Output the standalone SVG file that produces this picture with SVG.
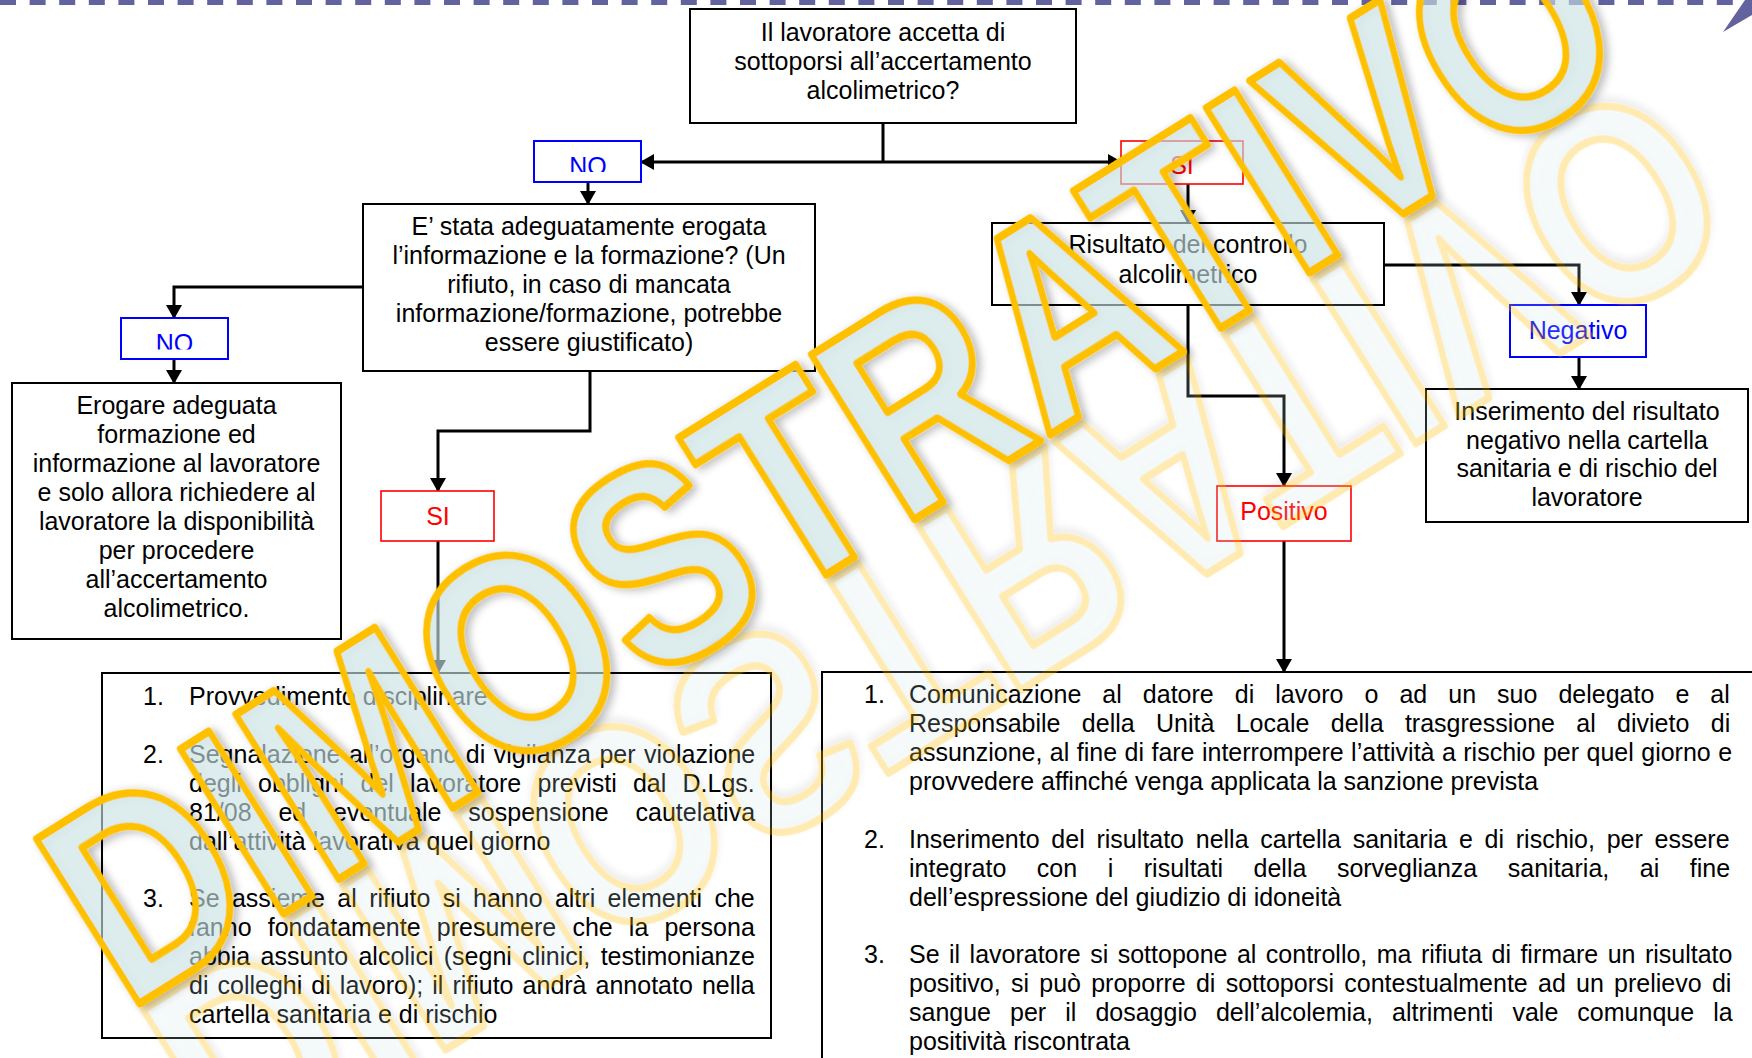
<svg xmlns="http://www.w3.org/2000/svg" xmlns:xlink="http://www.w3.org/1999/xlink" width="1752" height="1058" viewBox="0 0 1752 1058">
<defs>
<style>
.t{font-family:"Liberation Sans",Arial,sans-serif;font-size:25px;fill:#000}
.c{text-anchor:middle}
.box{fill:#fff;stroke:#000;stroke-width:2}
.blue{fill:#fff;stroke:#0000ff;stroke-width:2}
.red{fill:#fff;stroke:#ff0000;stroke-width:1.6}
.bt{fill:#0000ff}
.rt{fill:#ff0000}
.con{fill:none;stroke:#000;stroke-width:3}
.arr{marker-end:url(#ah)}
.wm{font-family:"Liberation Sans",Arial,sans-serif;font-weight:bold;font-size:235px;fill:#d6eef0;fill-opacity:0.55;stroke:#ffc000;stroke-width:6.5;stroke-linejoin:round}
</style>
<marker id="ah" viewBox="0 0 14 16" refX="13" refY="8" markerWidth="14" markerHeight="16" markerUnits="userSpaceOnUse" orient="auto">
<path d="M0,0 L14,8 L0,16 z" fill="#000"/>
</marker>
<clipPath id="clipNo1"><rect x="534" y="141" width="107" height="31"/></clipPath>
<clipPath id="clipNo2"><rect x="121" y="318" width="107" height="31.5"/></clipPath>
<filter id="sh" x="-10%" y="-10%" width="120%" height="120%">
<feGaussianBlur in="SourceAlpha" stdDeviation="4"/>
<feOffset dx="3" dy="3" result="b"/>
<feComponentTransfer><feFuncA type="linear" slope="0.3"/></feComponentTransfer>
<feMerge><feMergeNode/><feMergeNode in="SourceGraphic"/></feMerge>
</filter>
</defs>
<rect width="1752" height="1058" fill="#fff"/>

<line x1="0" y1="2.5" x2="1735" y2="2.5" stroke="#62629e" stroke-width="5" stroke-dasharray="16 13.6"/>
<polygon points="1723,32 1745,0 1752,0 1752,15" fill="#62629e"/>

<g id="connectors">
<path class="con" d="M883,123 V162"/>
<path class="con arr" d="M883,162 H641"/>
<path class="con arr" d="M883,162 H1121"/>
<path class="con arr" d="M588,182 V204"/>
<path class="con arr" d="M363,287 H174 V318"/>
<path class="con arr" d="M174,359 V383"/>
<path class="con arr" d="M590,372 V431 H438 V491"/>
<path class="con arr" d="M438,541 V673"/>
<path class="con arr" d="M1188,184 V223"/>
<path class="con arr" d="M1384,265 H1579 V305"/>
<path class="con arr" d="M1579,357 V389"/>
<path class="con arr" d="M1188,305 V396 H1284 V486"/>
<path class="con arr" d="M1284,541 V672"/>
</g>

<g id="q1">
<rect class="box" x="690" y="9" width="386" height="114"/>
<text class="t c" x="883" y="41">Il lavoratore accetta di</text>
<text class="t c" x="883" y="70">sottoporsi all’accertamento</text>
<text class="t c" x="883" y="99">alcolimetrico?</text>
</g>

<g id="no1">
<rect class="blue" x="534" y="141" width="107" height="41"/>
<text class="t c bt" x="588" y="175" clip-path="url(#clipNo1)">NO</text>
</g>

<g id="si1">
<rect class="red" x="1121" y="141" width="122" height="43"/>
<text class="t c rt" x="1182" y="173.5">SI</text>
</g>

<g id="q2">
<rect class="box" x="363" y="204" width="452" height="167"/>
<text class="t c" x="589" y="235">E’ stata adeguatamente erogata</text>
<text class="t c" x="589" y="264">l’informazione e la formazione? (Un</text>
<text class="t c" x="589" y="293">rifiuto, in caso di mancata</text>
<text class="t c" x="589" y="322">informazione/formazione, potrebbe</text>
<text class="t c" x="589" y="351">essere giustificato)</text>
</g>

<g id="no2">
<rect class="blue" x="121" y="318" width="107" height="41"/>
<text class="t c bt" x="174.5" y="351.5" clip-path="url(#clipNo2)">NO</text>
</g>

<g id="erogare">
<rect class="box" x="12" y="383" width="329" height="256"/>
<text class="t c" x="176.5" y="414">Erogare adeguata</text>
<text class="t c" x="176.5" y="443">formazione ed</text>
<text class="t c" x="176.5" y="472">informazione al lavoratore</text>
<text class="t c" x="176.5" y="501">e solo allora richiedere al</text>
<text class="t c" x="176.5" y="530">lavoratore la disponibilità</text>
<text class="t c" x="176.5" y="559">per procedere</text>
<text class="t c" x="176.5" y="588">all’accertamento</text>
<text class="t c" x="176.5" y="617">alcolimetrico.</text>
</g>

<g id="si2">
<rect class="red" x="381" y="491" width="113" height="50"/>
<text class="t c rt" x="438" y="525">SI</text>
</g>

<g id="sanzioni">
<rect class="box" x="102" y="673" width="669" height="365"/>
<text class="t" x="143" y="705">1.</text>
<text class="t" x="189" y="705">Provvedimento disciplinare</text>
<text class="t" x="143" y="763">2.</text>
<text class="t" x="189" y="763" word-spacing="1.5">Segnalazione all’organo di vigilanza per violazione</text>
<text class="t" x="189" y="792" word-spacing="9.3">degli obblighi del lavoratore previsti dal D.Lgs.</text>
<text class="t" x="189" y="821" word-spacing="19.9">81/08 ed eventuale sospensione cautelativa</text>
<text class="t" x="189" y="850">dall’attività lavorativa quel giorno</text>
<text class="t" x="143" y="907">3.</text>
<text class="t" x="189" y="907" word-spacing="5.4">Se assieme al rifiuto si hanno altri elementi che</text>
<text class="t" x="189" y="936" word-spacing="9.2">fanno fondatamente presumere che la persona</text>
<text class="t" x="189" y="965" word-spacing="3.4">abbia assunto alcolici (segni clinici, testimonianze</text>
<text class="t" x="189" y="994" word-spacing="2.1">di colleghi di lavoro); il rifiuto andrà annotato nella</text>
<text class="t" x="189" y="1023">cartella sanitaria e di rischio</text>
</g>

<g id="risultato">
<rect class="box" x="992" y="223" width="392" height="82"/>
<text class="t c" x="1188" y="253">Risultato del controllo</text>
<text class="t c" x="1188" y="283">alcolimetrico</text>
</g>

<g id="negativo">
<rect class="blue" x="1510" y="305" width="136" height="52"/>
<text class="t c bt" x="1578" y="339">Negativo</text>
</g>

<g id="inserimento">
<rect class="box" x="1426" y="389" width="322" height="133"/>
<text class="t c" x="1587" y="420">Inserimento del risultato</text>
<text class="t c" x="1587" y="449">negativo nella cartella</text>
<text class="t c" x="1587" y="477">sanitaria e di rischio del</text>
<text class="t c" x="1587" y="506">lavoratore</text>
</g>

<g id="positivo">
<rect class="red" x="1217" y="486" width="134" height="55"/>
<text class="t c rt" x="1284" y="520">Positivo</text>
</g>

<g id="azioni">
<rect class="box" x="822" y="672" width="940" height="400"/>
<text class="t" x="864" y="703">1.</text>
<text class="t" x="909" y="703" word-spacing="14.1">Comunicazione al datore di lavoro o ad un suo delegato e al</text>
<text class="t" x="909" y="732" word-spacing="14.4">Responsabile della Unità Locale della trasgressione al divieto di</text>
<text class="t" x="909" y="761" word-spacing="0.5">assunzione, al fine di fare interrompere l’attività a rischio per quel giorno e</text>
<text class="t" x="909" y="790">provvedere affinché venga applicata la sanzione prevista</text>
<text class="t" x="864" y="848">2.</text>
<text class="t" x="909" y="848" word-spacing="4.8">Inserimento del risultato nella cartella sanitaria e di rischio, per essere</text>
<text class="t" x="909" y="877" word-spacing="23.6">integrato con i risultati della sorveglianza sanitaria, ai fine</text>
<text class="t" x="909" y="906">dell’espressione del giudizio di idoneità</text>
<text class="t" x="864" y="963">3.</text>
<text class="t" x="909" y="963" word-spacing="2.5">Se il lavoratore si sottopone al controllo, ma rifiuta di firmare un risultato</text>
<text class="t" x="909" y="992" word-spacing="3.3">positivo, si può proporre di sottoporsi contestualmente ad un prelievo di</text>
<text class="t" x="909" y="1021" word-spacing="12.1">sangue per il dosaggio dell’alcolemia, altrimenti vale comunque la</text>
<text class="t" x="909" y="1050">positività riscontrata</text>
</g>

<g id="watermark" transform="translate(126,1012) rotate(-32) scale(1,1.2)">
<g opacity="0.3">
<use xlink:href="#wmtext" transform="translate(0,6) scale(1,-1)"/>
</g>
<text id="wmtext" class="wm" x="0" y="0" filter="url(#sh)">DIMOSTRATIVO</text>
</g>
</svg>
